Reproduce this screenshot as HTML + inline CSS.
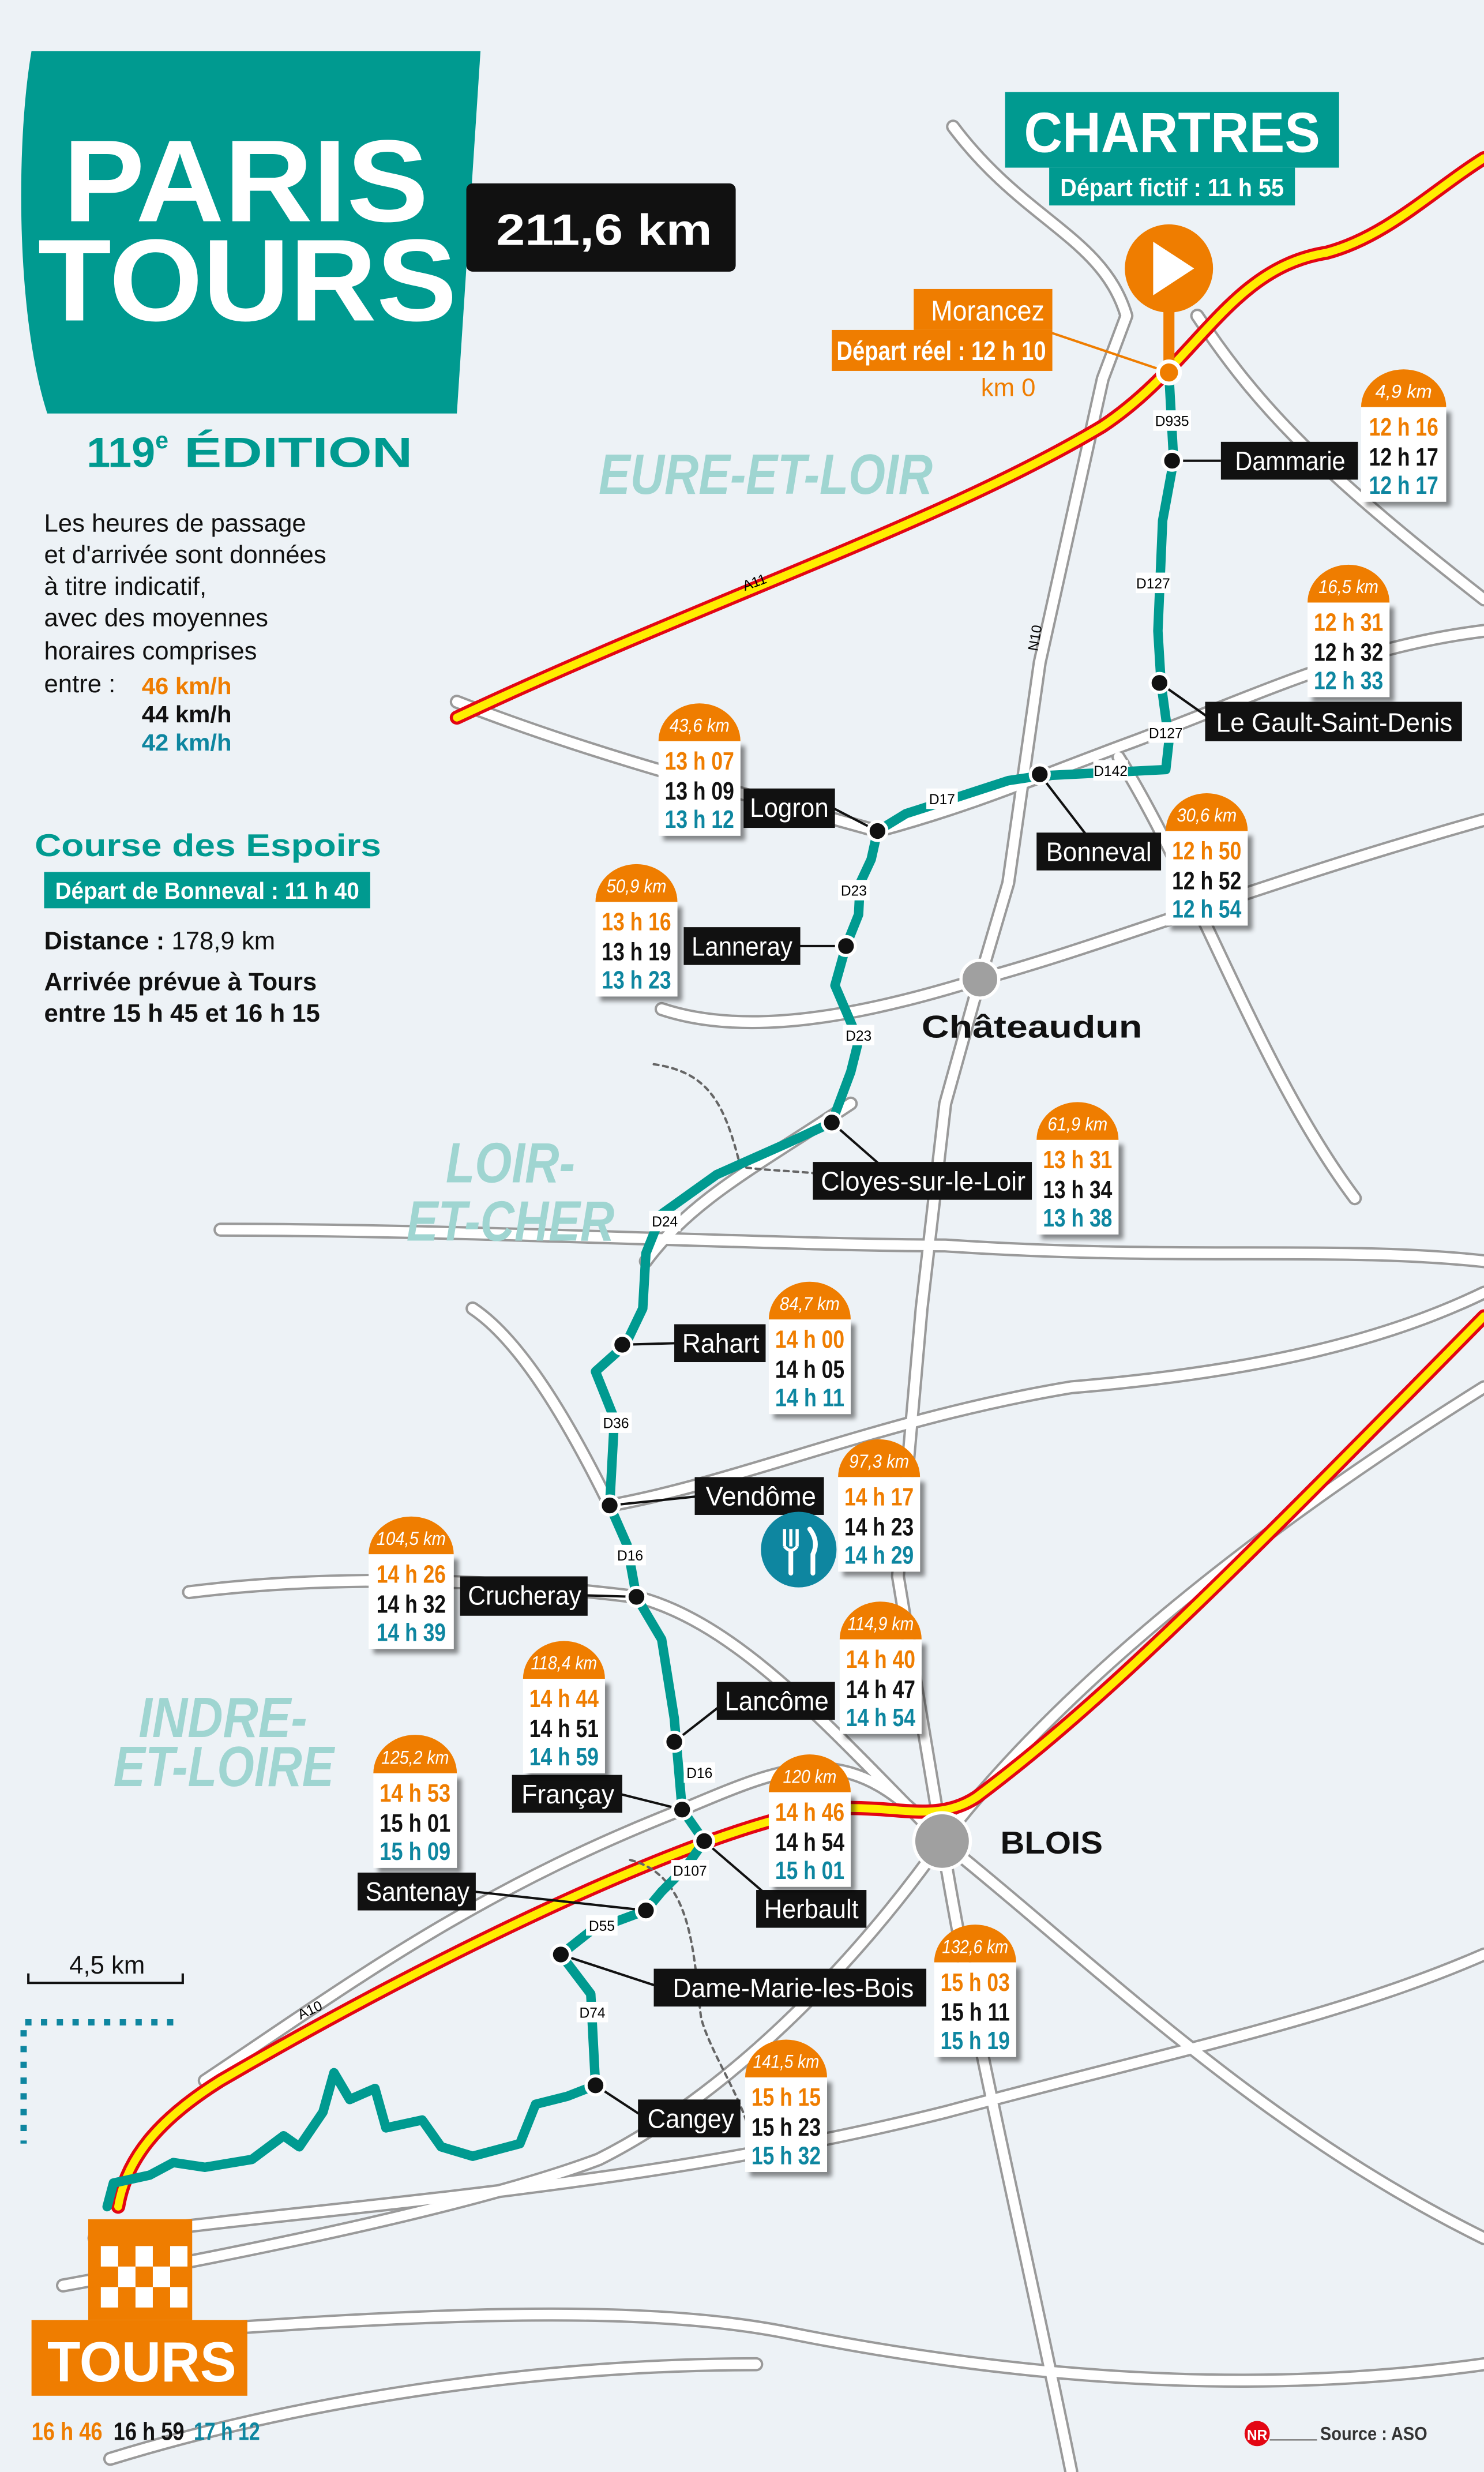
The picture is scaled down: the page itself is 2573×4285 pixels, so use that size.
<!DOCTYPE html>
<html><head><meta charset="utf-8"><style>
html,body{margin:0;padding:0;background:#edf2f6;}
svg{display:block}
text{font-family:"Liberation Sans",sans-serif;}
.b{font-weight:bold}
</style></head><body>
<svg width="2573" height="4285" viewBox="0 0 942 1568" xmlns="http://www.w3.org/2000/svg">
<defs>
<filter id="sh" x="-20%" y="-20%" width="150%" height="150%"><feDropShadow dx="3" dy="3" stdDeviation="1.5" flood-color="#000" flood-opacity="0.45"/></filter>
<path id="r1" d="M605,80 C650,140 700,150 715,200 L700,240 L660,420 L640,560 L622,621 L600,700 L585,830 L570,1000 L598,1168"/>
<path id="r2" d="M760,200 C800,260 840,300 942,380"/>
<path id="r3" d="M622,621 C700,600 800,560 942,520"/>
<path id="r4" d="M622,621 C560,640 480,660 420,640"/>
<path id="r5" d="M290,445 C380,480 460,500 557,527 C620,510 660,492 720,470 C800,440 860,410 942,400"/>
<path id="r6" d="M140,780 C300,780 500,790 600,790 C750,800 850,790 942,800"/>
<path id="r7" d="M300,830 C330,850 360,900 387,955 C470,940 560,900 680,880 C800,870 880,850 942,820"/>
<path id="r8" d="M598,1168 C650,1100 750,1000 942,880"/>
<path id="r9" d="M598,1168 C700,1250 800,1350 942,1420"/>
<path id="r10" d="M598,1168 C620,1300 650,1420 680,1568"/>
<path id="r11" d="M120,1010 C200,1000 300,1000 404,1013 C470,1030 530,1100 598,1168"/>
<path id="r12" d="M40,1450 C150,1430 300,1400 380,1370 C460,1330 540,1250 598,1168"/>
<path id="r13" d="M100,1480 C250,1470 400,1460 500,1480 C650,1510 800,1520 942,1500"/>
<path id="r14" d="M60,1420 C200,1400 400,1390 600,1340 C750,1300 850,1280 942,1240"/>
<path id="r15" d="M130,1320 C220,1260 300,1200 433,1148 C500,1120 540,1100 598,1168"/>
<path id="r16" d="M710,480 C760,560 800,680 860,760"/>
<path id="r17" d="M540,700 C480,740 440,760 410,800"/>
<path id="r18" d="M70,1560 C200,1520 350,1500 480,1500"/>
<path id="a11" d="M290,455 C450,380 600,330 700,270 C760,230 780,170 842,160 C880,150 910,120 942,100"/>
<path id="a10" d="M75,1400 C80,1370 100,1345 140,1320 C260,1250 420,1170 510,1150 C560,1140 590,1160 620,1140 C700,1080 780,1000 942,835"/>
</defs>
<rect width="942" height="1568" fill="#edf2f6"/>
<g fill="none" stroke-linecap="round" stroke-linejoin="round">
<g stroke="#9a9a9a" stroke-width="9">
<use href="#r1"/><use href="#r2"/><use href="#r3"/><use href="#r4"/><use href="#r5"/><use href="#r6"/><use href="#r7"/><use href="#r8"/><use href="#r9"/><use href="#r10"/><use href="#r11"/><use href="#r12"/><use href="#r13"/><use href="#r14"/><use href="#r15"/><use href="#r16"/><use href="#r17"/><use href="#r18"/>
</g>
<g stroke="#fff" stroke-width="6">
<use href="#r1"/><use href="#r2"/><use href="#r3"/><use href="#r4"/><use href="#r5"/><use href="#r6"/><use href="#r7"/><use href="#r8"/><use href="#r9"/><use href="#r10"/><use href="#r11"/><use href="#r12"/><use href="#r13"/><use href="#r14"/><use href="#r15"/><use href="#r16"/><use href="#r17"/><use href="#r18"/>
</g>
<g stroke="#e30613" stroke-width="9"><use href="#a11"/><use href="#a10"/></g>
<g stroke="#ffed00" stroke-width="5"><use href="#a11"/><use href="#a10"/></g>
<path d="M415,675 C450,680 460,700 470,740 C500,745 540,740 560,760" stroke="#666" stroke-width="1.5" stroke-dasharray="3,3"/>
<path d="M400,1180 C440,1190 440,1240 445,1280 C450,1300 470,1330 475,1350" stroke="#666" stroke-width="1.5" stroke-dasharray="3,3"/>
<path d="M742,180 L742,235" stroke="#ef7d00" stroke-width="7"/>
<path d="M742,237 L745,292 L738,330 L735,400 L737,433 L742,470 L740,488 L700,490 L660,492 L640,495 L600,508 L575,516 L557,527 L553,545 L546,560 L545,580 L537,600 L530,625 L545,660 L540,680 L528,712 L500,725 L455,745 L420,770 L410,795 L408,830 L397,853 L378,870 L390,900 L387,955 L398,980 L404,1013 L420,1040 L428,1090 L433,1148 L447,1168 L435,1185 L420,1200 L410,1212 L375,1225 L356,1240 L375,1265 L378,1323 L360,1330 L340,1335 L330,1360 L300,1368 L280,1362 L268,1345 L245,1350 L238,1325 L222,1332 L212,1315 L205,1340 L190,1362 L180,1355 L160,1370 L130,1375 L110,1372 L95,1380 L72,1385 L68,1400" stroke="#009a90" stroke-width="6"/>
</g>
<g font-size="9" text-anchor="middle">
<rect x="732" y="260" width="24" height="13" fill="#fff"/><text x="744" y="270">D935</text>
<rect x="721" y="363" width="22" height="13" fill="#fff"/><text x="732" y="373">D127</text>
<rect x="729" y="458" width="22" height="13" fill="#fff"/><text x="740" y="468">D127</text>
<rect x="694" y="482" width="22" height="13" fill="#fff"/><text x="705" y="492">D142</text>
<rect x="588" y="500" width="20" height="13" fill="#fff"/><text x="598" y="510">D17</text>
<rect x="532" y="558" width="20" height="13" fill="#fff"/><text x="542" y="568">D23</text>
<rect x="535" y="650" width="20" height="13" fill="#fff"/><text x="545" y="660">D23</text>
<rect x="412" y="768" width="20" height="13" fill="#fff"/><text x="422" y="778">D24</text>
<rect x="381" y="896" width="20" height="13" fill="#fff"/><text x="391" y="906">D36</text>
<rect x="390" y="980" width="20" height="13" fill="#fff"/><text x="400" y="990">D16</text>
<rect x="434" y="1118" width="20" height="13" fill="#fff"/><text x="444" y="1128">D16</text>
<rect x="426" y="1180" width="24" height="13" fill="#fff"/><text x="438" y="1190">D107</text>
<rect x="372" y="1215" width="20" height="13" fill="#fff"/><text x="382" y="1225">D55</text>
<rect x="366" y="1270" width="20" height="13" fill="#fff"/><text x="376" y="1280">D74</text>
<text x="660" y="405" transform="rotate(-80 660 405)">N10</text>
<text x="480" y="372" transform="rotate(-20 480 372)">A11</text>
<text x="198" y="1278" transform="rotate(-25 198 1278)">A10</text>
</g>
<g fill="#9fd5d1" font-style="italic" font-weight="bold" font-size="36">
<text x="380" y="313" textLength="212" lengthAdjust="spacingAndGlyphs">EURE-ET-LOIR</text>
<text x="283" y="750" textLength="82" lengthAdjust="spacingAndGlyphs">LOIR-</text>
<text x="258" y="787" textLength="132" lengthAdjust="spacingAndGlyphs">ET-CHER</text>
<text x="88" y="1102" textLength="107" lengthAdjust="spacingAndGlyphs">INDRE-</text>
<text x="72" y="1133" textLength="140" lengthAdjust="spacingAndGlyphs">ET-LOIRE</text>
</g>
<path d="M20,32 L305,32 L290,262 L30,262 C10,200 10,90 20,32 Z" fill="#009a90"/>
<text x="40" y="140" fill="#fff" font-weight="bold" font-size="74" textLength="232" lengthAdjust="spacingAndGlyphs">PARIS</text>
<text x="24" y="203" fill="#fff" font-weight="bold" font-size="74" textLength="266" lengthAdjust="spacingAndGlyphs">TOURS</text>
<rect x="296" y="116" width="171" height="56" rx="4" fill="#111"/>
<text x="315" y="155" fill="#fff" font-weight="bold" font-size="28" textLength="137" lengthAdjust="spacingAndGlyphs">211,6 km</text>
<text x="55" y="296" fill="#009a90" font-weight="bold" font-size="27">119<tspan font-size="15" dy="-12">e</tspan><tspan dy="12" textLength="155" lengthAdjust="spacingAndGlyphs"> ÉDITION</tspan></text>
<g font-size="16" fill="#111">
<text x="28" y="337">Les heures de passage</text>
<text x="28" y="357">et d'arrivée sont données</text>
<text x="28" y="377">à titre indicatif,</text>
<text x="28" y="397">avec des moyennes</text>
<text x="28" y="418">horaires comprises</text>
<text x="28" y="439">entre :</text>
</g>
<g class="b" font-size="15">
<text x="90" y="440" fill="#ef7d00" textLength="57" lengthAdjust="spacingAndGlyphs">46 km/h</text>
<text x="90" y="458" fill="#111" textLength="57" lengthAdjust="spacingAndGlyphs">44 km/h</text>
<text x="90" y="476" fill="#0e86a0" textLength="57" lengthAdjust="spacingAndGlyphs">42 km/h</text>
</g>
<text x="22" y="543" fill="#009a90" font-weight="bold" font-size="20" textLength="220" lengthAdjust="spacingAndGlyphs">Course des Espoirs</text>
<rect x="28" y="553" width="207" height="23" fill="#009a90"/>
<text x="35" y="570" fill="#fff" class="b" font-size="15" textLength="193" lengthAdjust="spacingAndGlyphs">Départ de Bonneval : 11 h 40</text>
<text x="28" y="602" font-size="16" fill="#111"><tspan font-weight="bold">Distance :</tspan> 178,9 km</text>
<text x="28" y="628" font-weight="bold" font-size="16" fill="#111">Arrivée prévue à Tours</text>
<text x="28" y="648" font-weight="bold" font-size="16" fill="#111">entre 15 h 45 et 16 h 15</text>
<rect x="638" y="58" width="212" height="48" fill="#009a90"/>
<text x="650" y="96" fill="#fff" font-weight="bold" font-size="36" textLength="188" lengthAdjust="spacingAndGlyphs">CHARTRES</text>
<rect x="666" y="106" width="156" height="24" fill="#009a90"/>
<text x="673" y="124" fill="#fff" class="b" font-size="16" textLength="142" lengthAdjust="spacingAndGlyphs">Départ fictif : 11 h 55</text>
<circle cx="742" cy="170" r="28" fill="#ef7d00"/>
<path d="M732,153 L732,187 L758,170 Z" fill="#fff"/>
<line x1="665" y1="210" x2="742" y2="236" stroke="#ef7d00" stroke-width="1.5"/>
<circle cx="742" cy="236" r="7" fill="#ef7d00" stroke="#fff" stroke-width="2.5"/>
<rect x="580" y="183" width="88" height="26" fill="#ef7d00"/>
<text x="591" y="203" fill="#fff" font-size="18" textLength="72" lengthAdjust="spacingAndGlyphs">Morancez</text>
<rect x="528" y="209" width="140" height="26" fill="#ef7d00"/>
<text x="531" y="228" fill="#fff" class="b" font-size="17" textLength="133" lengthAdjust="spacingAndGlyphs">Départ réel : 12 h 10</text>
<text x="640" y="251" fill="#ef7d00" text-anchor="middle" font-size="16">km 0</text>
<g stroke="#111" stroke-width="1.5">
<line x1="744" y1="292" x2="775" y2="292"/>
<line x1="736" y1="433" x2="770" y2="457"/>
<line x1="660" y1="491" x2="690" y2="530"/>
<line x1="557" y1="527" x2="528" y2="512"/>
<line x1="537" y1="600" x2="505" y2="600"/>
<line x1="528" y1="712" x2="560" y2="740"/>
<line x1="395" y1="853" x2="430" y2="852"/>
<line x1="387" y1="955" x2="445" y2="949"/>
<line x1="404" y1="1013" x2="370" y2="1012"/>
<line x1="428" y1="1105" x2="460" y2="1080"/>
<line x1="433" y1="1148" x2="393" y2="1138"/>
<line x1="447" y1="1168" x2="490" y2="1205"/>
<line x1="410" y1="1212" x2="300" y2="1200"/>
<line x1="356" y1="1240" x2="420" y2="1261"/>
<line x1="378" y1="1323" x2="410" y2="1344"/>
</g>
<g fill="#111" stroke="#fff" stroke-width="2">
<circle cx="744" cy="292" r="6"/><circle cx="736" cy="433" r="6"/><circle cx="660" cy="491" r="6"/><circle cx="557" cy="527" r="6"/><circle cx="537" cy="600" r="6"/><circle cx="528" cy="712" r="6"/><circle cx="395" cy="853" r="6"/><circle cx="387" cy="955" r="6"/><circle cx="404" cy="1013" r="6"/><circle cx="428" cy="1105" r="6"/><circle cx="433" cy="1148" r="6"/><circle cx="447" cy="1168" r="6"/><circle cx="410" cy="1212" r="6"/><circle cx="356" cy="1240" r="6"/><circle cx="378" cy="1323" r="6"/>
</g>
<circle cx="622" cy="621" r="12" fill="#a0a0a0" stroke="#fff" stroke-width="2"/>
<text x="585" y="658" font-weight="bold" font-size="20" fill="#111" textLength="140" lengthAdjust="spacingAndGlyphs">Châteaudun</text>
<circle cx="598" cy="1168" r="18" fill="#a0a0a0" stroke="#fff" stroke-width="2"/>
<text x="635" y="1176" font-weight="bold" font-size="20" fill="#111" textLength="65" lengthAdjust="spacingAndGlyphs">BLOIS</text>
<g fill="#111">
<rect x="775" y="280" width="87" height="24"/><rect x="765" y="445" width="163" height="25"/><rect x="658" y="528" width="79" height="24"/><rect x="472" y="500" width="58" height="25"/><rect x="434" y="588" width="74" height="24"/><rect x="516" y="737" width="139" height="24"/><rect x="428" y="840" width="58" height="24"/><rect x="441" y="937" width="82" height="24"/><rect x="292" y="1000" width="81" height="25"/><rect x="455" y="1067" width="75" height="24"/><rect x="325" y="1126" width="70" height="24"/><rect x="480" y="1199" width="70" height="24"/><rect x="227" y="1188" width="75" height="24"/><rect x="415" y="1249" width="173" height="24"/><rect x="405" y="1332" width="65" height="24"/>
</g>
<g fill="#fff" font-size="17">
<text x="784" y="298" textLength="70" lengthAdjust="spacingAndGlyphs">Dammarie</text>
<text x="772" y="464" textLength="150" lengthAdjust="spacingAndGlyphs">Le Gault-Saint-Denis</text>
<text x="664" y="546" textLength="67" lengthAdjust="spacingAndGlyphs">Bonneval</text>
<text x="476" y="518" textLength="50" lengthAdjust="spacingAndGlyphs">Logron</text>
<text x="439" y="606" textLength="64" lengthAdjust="spacingAndGlyphs">Lanneray</text>
<text x="521" y="755" textLength="130" lengthAdjust="spacingAndGlyphs">Cloyes-sur-le-Loir</text>
<text x="433" y="858" textLength="49" lengthAdjust="spacingAndGlyphs">Rahart</text>
<text x="448" y="955" textLength="70" lengthAdjust="spacingAndGlyphs">Vendôme</text>
<text x="297" y="1018" textLength="72" lengthAdjust="spacingAndGlyphs">Crucheray</text>
<text x="460" y="1085" textLength="66" lengthAdjust="spacingAndGlyphs">Lancôme</text>
<text x="331" y="1144" textLength="59" lengthAdjust="spacingAndGlyphs">Françay</text>
<text x="485" y="1217" textLength="60" lengthAdjust="spacingAndGlyphs">Herbault</text>
<text x="232" y="1206" textLength="66" lengthAdjust="spacingAndGlyphs">Santenay</text>
<text x="427" y="1267" textLength="153" lengthAdjust="spacingAndGlyphs">Dame-Marie-les-Bois</text>
<text x="411" y="1350" textLength="55" lengthAdjust="spacingAndGlyphs">Cangey</text>
</g>
<circle cx="507" cy="983" r="24" fill="#0e86a0"/>
<path d="M498,970 L498,981 M502,970 L502,981 M506,970 L506,981 M498,981 Q502,986 506,981" stroke="#fff" stroke-width="2" fill="none"/>
<line x1="502" y1="984" x2="502" y2="998" stroke="#fff" stroke-width="3" stroke-linecap="round"/>
<path d="M514,970 Q520,978 516,986 L516,998" stroke="#fff" stroke-width="3" fill="none" stroke-linecap="round"/>
<g class="b">
<g transform="translate(864,258)"><path d="M0,0 A27,24 0 0 1 54,0 Z" fill="#ef7d00"/><rect width="54" height="60" fill="#fff" filter="url(#sh)"/><text x="9" y="-6" fill="#fff" font-size="12" font-style="italic" font-weight="normal" textLength="36" lengthAdjust="spacingAndGlyphs">4,9 km</text><text x="5" y="18" fill="#ef7d00" font-size="16" textLength="44" lengthAdjust="spacingAndGlyphs">12 h 16</text><text x="5" y="37" fill="#111" font-size="16" textLength="44" lengthAdjust="spacingAndGlyphs">12 h 17</text><text x="5" y="55" fill="#0e86a0" font-size="16" textLength="44" lengthAdjust="spacingAndGlyphs">12 h 17</text></g>
<g transform="translate(830,382)"><path d="M0,0 A26,24 0 0 1 52,0 Z" fill="#ef7d00"/><rect width="52" height="60" fill="#fff" filter="url(#sh)"/><text x="7" y="-6" fill="#fff" font-size="12" font-style="italic" font-weight="normal" textLength="38" lengthAdjust="spacingAndGlyphs">16,5 km</text><text x="4" y="18" fill="#ef7d00" font-size="16" textLength="44" lengthAdjust="spacingAndGlyphs">12 h 31</text><text x="4" y="37" fill="#111" font-size="16" textLength="44" lengthAdjust="spacingAndGlyphs">12 h 32</text><text x="4" y="55" fill="#0e86a0" font-size="16" textLength="44" lengthAdjust="spacingAndGlyphs">12 h 33</text></g>
<g transform="translate(418,470)"><path d="M0,0 A26,24 0 0 1 52,0 Z" fill="#ef7d00"/><rect width="52" height="60" fill="#fff" filter="url(#sh)"/><text x="7" y="-6" fill="#fff" font-size="12" font-style="italic" font-weight="normal" textLength="38" lengthAdjust="spacingAndGlyphs">43,6 km</text><text x="4" y="18" fill="#ef7d00" font-size="16" textLength="44" lengthAdjust="spacingAndGlyphs">13 h 07</text><text x="4" y="37" fill="#111" font-size="16" textLength="44" lengthAdjust="spacingAndGlyphs">13 h 09</text><text x="4" y="55" fill="#0e86a0" font-size="16" textLength="44" lengthAdjust="spacingAndGlyphs">13 h 12</text></g>
<g transform="translate(740,527)"><path d="M0,0 A26,24 0 0 1 52,0 Z" fill="#ef7d00"/><rect width="52" height="60" fill="#fff" filter="url(#sh)"/><text x="7" y="-6" fill="#fff" font-size="12" font-style="italic" font-weight="normal" textLength="38" lengthAdjust="spacingAndGlyphs">30,6 km</text><text x="4" y="18" fill="#ef7d00" font-size="16" textLength="44" lengthAdjust="spacingAndGlyphs">12 h 50</text><text x="4" y="37" fill="#111" font-size="16" textLength="44" lengthAdjust="spacingAndGlyphs">12 h 52</text><text x="4" y="55" fill="#0e86a0" font-size="16" textLength="44" lengthAdjust="spacingAndGlyphs">12 h 54</text></g>
<g transform="translate(378,572)"><path d="M0,0 A26,24 0 0 1 52,0 Z" fill="#ef7d00"/><rect width="52" height="60" fill="#fff" filter="url(#sh)"/><text x="7" y="-6" fill="#fff" font-size="12" font-style="italic" font-weight="normal" textLength="38" lengthAdjust="spacingAndGlyphs">50,9 km</text><text x="4" y="18" fill="#ef7d00" font-size="16" textLength="44" lengthAdjust="spacingAndGlyphs">13 h 16</text><text x="4" y="37" fill="#111" font-size="16" textLength="44" lengthAdjust="spacingAndGlyphs">13 h 19</text><text x="4" y="55" fill="#0e86a0" font-size="16" textLength="44" lengthAdjust="spacingAndGlyphs">13 h 23</text></g>
<g transform="translate(658,723)"><path d="M0,0 A26,24 0 0 1 52,0 Z" fill="#ef7d00"/><rect width="52" height="60" fill="#fff" filter="url(#sh)"/><text x="7" y="-6" fill="#fff" font-size="12" font-style="italic" font-weight="normal" textLength="38" lengthAdjust="spacingAndGlyphs">61,9 km</text><text x="4" y="18" fill="#ef7d00" font-size="16" textLength="44" lengthAdjust="spacingAndGlyphs">13 h 31</text><text x="4" y="37" fill="#111" font-size="16" textLength="44" lengthAdjust="spacingAndGlyphs">13 h 34</text><text x="4" y="55" fill="#0e86a0" font-size="16" textLength="44" lengthAdjust="spacingAndGlyphs">13 h 38</text></g>
<g transform="translate(488,837)"><path d="M0,0 A26,24 0 0 1 52,0 Z" fill="#ef7d00"/><rect width="52" height="60" fill="#fff" filter="url(#sh)"/><text x="7" y="-6" fill="#fff" font-size="12" font-style="italic" font-weight="normal" textLength="38" lengthAdjust="spacingAndGlyphs">84,7 km</text><text x="4" y="18" fill="#ef7d00" font-size="16" textLength="44" lengthAdjust="spacingAndGlyphs">14 h 00</text><text x="4" y="37" fill="#111" font-size="16" textLength="44" lengthAdjust="spacingAndGlyphs">14 h 05</text><text x="4" y="55" fill="#0e86a0" font-size="16" textLength="44" lengthAdjust="spacingAndGlyphs">14 h 11</text></g>
<g transform="translate(532,937)"><path d="M0,0 A26,24 0 0 1 52,0 Z" fill="#ef7d00"/><rect width="52" height="60" fill="#fff" filter="url(#sh)"/><text x="7" y="-6" fill="#fff" font-size="12" font-style="italic" font-weight="normal" textLength="38" lengthAdjust="spacingAndGlyphs">97,3 km</text><text x="4" y="18" fill="#ef7d00" font-size="16" textLength="44" lengthAdjust="spacingAndGlyphs">14 h 17</text><text x="4" y="37" fill="#111" font-size="16" textLength="44" lengthAdjust="spacingAndGlyphs">14 h 23</text><text x="4" y="55" fill="#0e86a0" font-size="16" textLength="44" lengthAdjust="spacingAndGlyphs">14 h 29</text></g>
<g transform="translate(234,986)"><path d="M0,0 A27,24 0 0 1 54,0 Z" fill="#ef7d00"/><rect width="54" height="60" fill="#fff" filter="url(#sh)"/><text x="5" y="-6" fill="#fff" font-size="12" font-style="italic" font-weight="normal" textLength="44" lengthAdjust="spacingAndGlyphs">104,5 km</text><text x="5" y="18" fill="#ef7d00" font-size="16" textLength="44" lengthAdjust="spacingAndGlyphs">14 h 26</text><text x="5" y="37" fill="#111" font-size="16" textLength="44" lengthAdjust="spacingAndGlyphs">14 h 32</text><text x="5" y="55" fill="#0e86a0" font-size="16" textLength="44" lengthAdjust="spacingAndGlyphs">14 h 39</text></g>
<g transform="translate(533,1040)"><path d="M0,0 A26,24 0 0 1 52,0 Z" fill="#ef7d00"/><rect width="52" height="60" fill="#fff" filter="url(#sh)"/><text x="5" y="-6" fill="#fff" font-size="12" font-style="italic" font-weight="normal" textLength="42" lengthAdjust="spacingAndGlyphs">114,9 km</text><text x="4" y="18" fill="#ef7d00" font-size="16" textLength="44" lengthAdjust="spacingAndGlyphs">14 h 40</text><text x="4" y="37" fill="#111" font-size="16" textLength="44" lengthAdjust="spacingAndGlyphs">14 h 47</text><text x="4" y="55" fill="#0e86a0" font-size="16" textLength="44" lengthAdjust="spacingAndGlyphs">14 h 54</text></g>
<g transform="translate(332,1065)"><path d="M0,0 A26,24 0 0 1 52,0 Z" fill="#ef7d00"/><rect width="52" height="60" fill="#fff" filter="url(#sh)"/><text x="5" y="-6" fill="#fff" font-size="12" font-style="italic" font-weight="normal" textLength="42" lengthAdjust="spacingAndGlyphs">118,4 km</text><text x="4" y="18" fill="#ef7d00" font-size="16" textLength="44" lengthAdjust="spacingAndGlyphs">14 h 44</text><text x="4" y="37" fill="#111" font-size="16" textLength="44" lengthAdjust="spacingAndGlyphs">14 h 51</text><text x="4" y="55" fill="#0e86a0" font-size="16" textLength="44" lengthAdjust="spacingAndGlyphs">14 h 59</text></g>
<g transform="translate(237,1125)"><path d="M0,0 A26,24 0 0 1 53,0 Z" fill="#ef7d00"/><rect width="53" height="60" fill="#fff" filter="url(#sh)"/><text x="5" y="-6" fill="#fff" font-size="12" font-style="italic" font-weight="normal" textLength="43" lengthAdjust="spacingAndGlyphs">125,2 km</text><text x="4" y="18" fill="#ef7d00" font-size="16" textLength="45" lengthAdjust="spacingAndGlyphs">14 h 53</text><text x="4" y="37" fill="#111" font-size="16" textLength="45" lengthAdjust="spacingAndGlyphs">15 h 01</text><text x="4" y="55" fill="#0e86a0" font-size="16" textLength="45" lengthAdjust="spacingAndGlyphs">15 h 09</text></g>
<g transform="translate(488,1137)"><path d="M0,0 A26,24 0 0 1 52,0 Z" fill="#ef7d00"/><rect width="52" height="60" fill="#fff" filter="url(#sh)"/><text x="9" y="-6" fill="#fff" font-size="12" font-style="italic" font-weight="normal" textLength="34" lengthAdjust="spacingAndGlyphs">120 km</text><text x="4" y="18" fill="#ef7d00" font-size="16" textLength="44" lengthAdjust="spacingAndGlyphs">14 h 46</text><text x="4" y="37" fill="#111" font-size="16" textLength="44" lengthAdjust="spacingAndGlyphs">14 h 54</text><text x="4" y="55" fill="#0e86a0" font-size="16" textLength="44" lengthAdjust="spacingAndGlyphs">15 h 01</text></g>
<g transform="translate(593,1245)"><path d="M0,0 A26,24 0 0 1 52,0 Z" fill="#ef7d00"/><rect width="52" height="60" fill="#fff" filter="url(#sh)"/><text x="5" y="-6" fill="#fff" font-size="12" font-style="italic" font-weight="normal" textLength="42" lengthAdjust="spacingAndGlyphs">132,6 km</text><text x="4" y="18" fill="#ef7d00" font-size="16" textLength="44" lengthAdjust="spacingAndGlyphs">15 h 03</text><text x="4" y="37" fill="#111" font-size="16" textLength="44" lengthAdjust="spacingAndGlyphs">15 h 11</text><text x="4" y="55" fill="#0e86a0" font-size="16" textLength="44" lengthAdjust="spacingAndGlyphs">15 h 19</text></g>
<g transform="translate(473,1318)"><path d="M0,0 A26,24 0 0 1 52,0 Z" fill="#ef7d00"/><rect width="52" height="60" fill="#fff" filter="url(#sh)"/><text x="5" y="-6" fill="#fff" font-size="12" font-style="italic" font-weight="normal" textLength="42" lengthAdjust="spacingAndGlyphs">141,5 km</text><text x="4" y="18" fill="#ef7d00" font-size="16" textLength="44" lengthAdjust="spacingAndGlyphs">15 h 15</text><text x="4" y="37" fill="#111" font-size="16" textLength="44" lengthAdjust="spacingAndGlyphs">15 h 23</text><text x="4" y="55" fill="#0e86a0" font-size="16" textLength="44" lengthAdjust="spacingAndGlyphs">15 h 32</text></g>
</g>
<text x="68" y="1252" text-anchor="middle" font-size="16" fill="#111">4,5 km</text>
<path d="M18,1252 L18,1258 L116,1258 L116,1252" stroke="#111" stroke-width="1.5" fill="none"/>
<path d="M110,1283 L15,1283 L15,1360" stroke="#0e86a0" stroke-width="4" stroke-dasharray="4,6" fill="none"/>
<rect x="56" y="1408" width="66" height="64" fill="#ef7d00"/>
<g fill="#fff">
<rect x="64" y="1425" width="11" height="13"/><rect x="86" y="1425" width="11" height="13"/><rect x="108" y="1425" width="11" height="13"/>
<rect x="75" y="1438" width="11" height="13"/><rect x="97" y="1438" width="11" height="13"/>
<rect x="64" y="1451" width="11" height="13"/><rect x="86" y="1451" width="11" height="13"/><rect x="108" y="1451" width="11" height="13"/>
</g>
<rect x="20" y="1472" width="137" height="48" fill="#ef7d00"/>
<text x="30" y="1511" fill="#fff" font-weight="bold" font-size="36" textLength="120" lengthAdjust="spacingAndGlyphs">TOURS</text>
<g class="b" font-size="16">
<text x="20" y="1548" fill="#ef7d00" textLength="45" lengthAdjust="spacingAndGlyphs">16 h 46</text>
<text x="72" y="1548" fill="#111" textLength="45" lengthAdjust="spacingAndGlyphs">16 h 59</text>
<text x="123" y="1548" fill="#0e86a0" textLength="42" lengthAdjust="spacingAndGlyphs">17 h 12</text>
</g>
<circle cx="798" cy="1544" r="8" fill="#e30613"/>
<text x="798" y="1548" text-anchor="middle" fill="#fff" font-size="9" class="b">NR</text>
<line x1="806" y1="1548" x2="836" y2="1548" stroke="#888" stroke-width="1"/>
<text x="838" y="1548" fill="#333" font-size="12" class="b" textLength="68" lengthAdjust="spacingAndGlyphs">Source : ASO</text>
</svg>
</body></html>
